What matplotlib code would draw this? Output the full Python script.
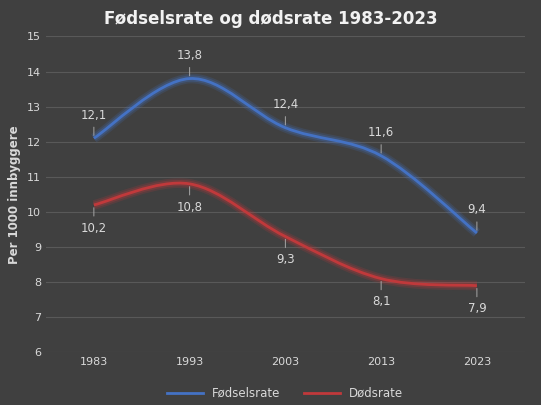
import matplotlib
matplotlib.use("Agg")
import matplotlib.pyplot as plt
import matplotlib.patheffects as pe
from matplotlib.path import Path
from matplotlib.patches import PathPatch

years = [1983, 1993, 2003, 2013, 2023]
fodsel = [12.1, 13.8, 12.4, 11.6, 9.4]
dod = [10.2, 10.8, 9.3, 8.1, 7.9]

bg = "#404040"
grid = "#595959"
txt = "#d9d9d9"

fig = plt.figure(figsize=(5.41, 4.05), dpi=100, facecolor=bg)
ax = fig.add_axes([0.085, 0.13, 0.885, 0.78], facecolor=bg)
x = list(range(len(years)))


def smooth_path(xs, ys):
    # Excel-aktig glatting: Catmull-Rom som Bezier
    verts = [(xs[0], ys[0])]
    codes = [Path.MOVETO]
    n = len(xs)
    for i in range(n - 1):
        p0 = (xs[max(i - 1, 0)], ys[max(i - 1, 0)])
        p1 = (xs[i], ys[i])
        p2 = (xs[i + 1], ys[i + 1])
        p3 = (xs[min(i + 2, n - 1)], ys[min(i + 2, n - 1)])
        c1 = (p1[0] + (p2[0] - p0[0]) / 6, p1[1] + (p2[1] - p0[1]) / 6)
        c2 = (p2[0] - (p3[0] - p1[0]) / 6, p2[1] - (p3[1] - p1[1]) / 6)
        verts += [c1, c2, p2]
        codes += [Path.CURVE4] * 3
    return Path(verts, codes)


for ys, col, name in [(fodsel, "#4472c4", "Fødselsrate"), (dod, "#c0393b", "Dødsrate")]:
    patch = PathPatch(smooth_path(x, ys), fill=False, edgecolor=col, lw=2.0,
                      path_effects=[pe.Stroke(linewidth=7, foreground=col, alpha=0.18),
                                    pe.Stroke(linewidth=4.5, foreground=col, alpha=0.28),
                                    pe.Normal()])
    ax.add_patch(patch)
    ax.plot([], [], color=col, lw=2.0, label=name)

for i, v in enumerate(fodsel):
    ax.annotate(f"{v:.1f}".replace(".", ","), (i, v), xytext=(0, 12), textcoords="offset points",
                ha="center", va="bottom", color=txt, fontsize=8.5,
                arrowprops=dict(arrowstyle="-", color="#a6a6a6", lw=0.7))
for i, v in enumerate(dod):
    ax.annotate(f"{v:.1f}".replace(".", ","), (i, v), xytext=(0, -12), textcoords="offset points",
                ha="center", va="top", color=txt, fontsize=8.5,
                arrowprops=dict(arrowstyle="-", color="#a6a6a6", lw=0.7))

ax.set_xlim(-0.5, len(years) - 0.5)
ax.set_ylim(6, 15)
ax.set_xticks(x)
ax.set_xticklabels(years)
ax.set_yticks(range(6, 16))
ax.grid(axis="y", color=grid, lw=0.8)
ax.set_axisbelow(True)
for s in ax.spines.values():
    s.set_visible(False)
ax.tick_params(colors=txt, labelsize=8, length=0)
ax.set_ylabel("Per 1000 innbyggere", color=txt, fontsize=8.5, fontweight="bold")
fig.suptitle("Fødselsrate og dødsrate 1983-2023", color="#f2f2f2", fontsize=12,
             fontweight="bold", y=0.975)
ax.legend(loc="upper center", bbox_to_anchor=(0.5, -0.075), ncol=2, frameon=False,
          labelcolor=txt, fontsize=8.5, handlelength=3)
fig.savefig("out.png", dpi=100, facecolor=bg)
